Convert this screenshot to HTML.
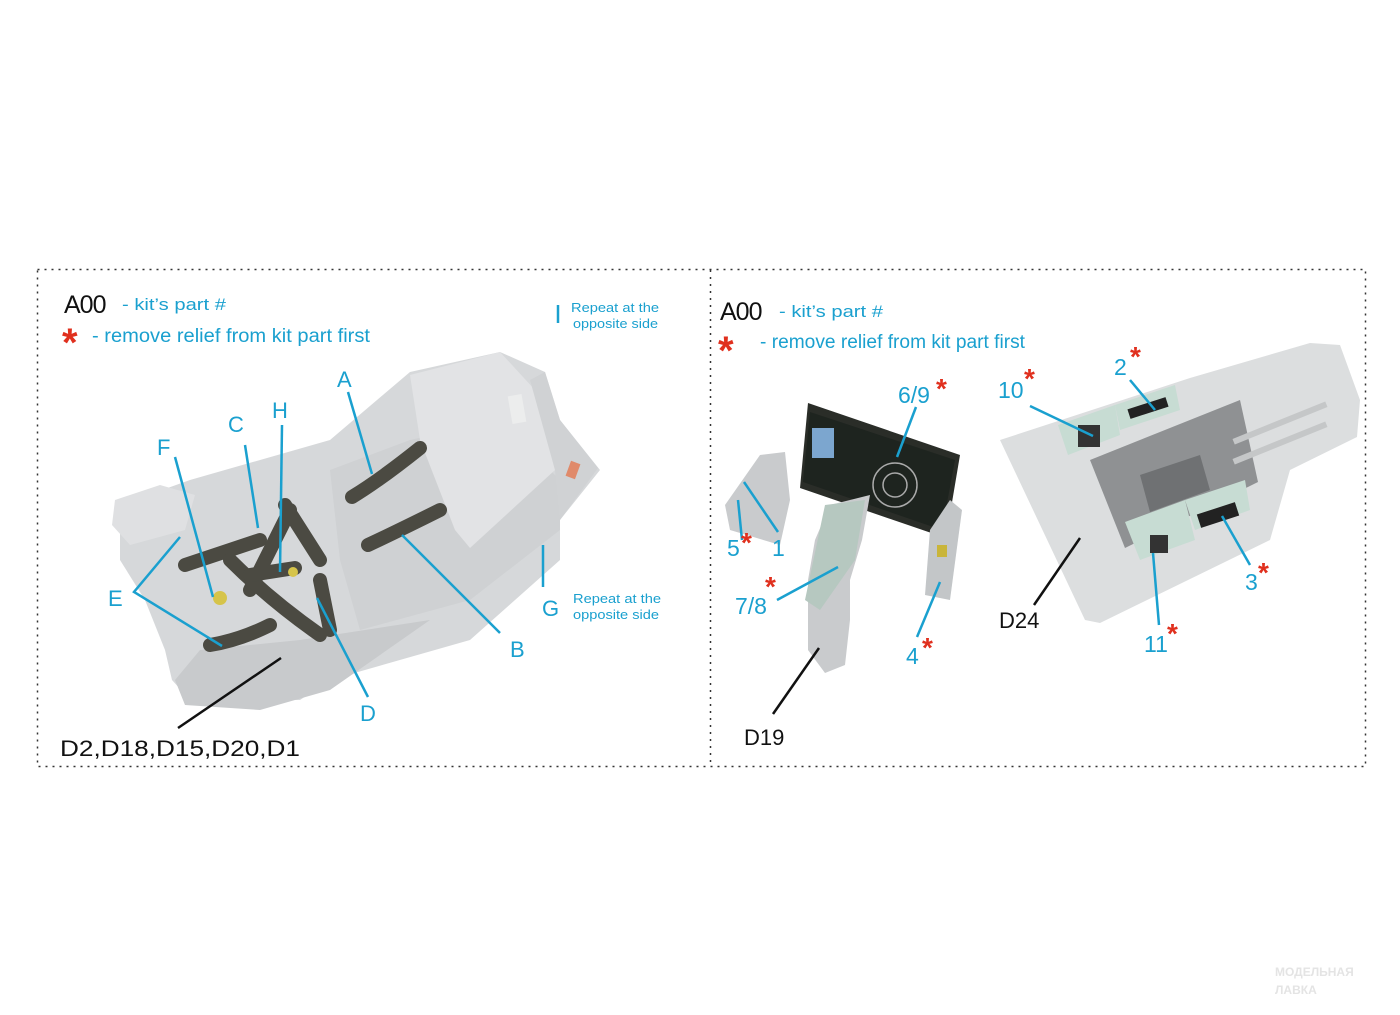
<!DOCTYPE html>
<html><head><meta charset="utf-8"><style>
html,body{margin:0;padding:0;background:#fff}
svg{display:block}
text{font-family:"Liberation Sans",sans-serif}
.b{fill:#1aa0cf}
.k{fill:#111}
.r{fill:#e0301e;font-weight:bold}
</style></head><body>
<svg width="1400" height="1015" viewBox="0 0 1400 1015" xmlns="http://www.w3.org/2000/svg">
<rect x="37.5" y="269.5" width="1328" height="497" fill="none" stroke="#333" stroke-width="1.5" stroke-dasharray="2,5"/>
<line x1="710.5" y1="270" x2="710.5" y2="767" stroke="#333" stroke-width="1.5" stroke-dasharray="2,5"/>

<!-- LEFT: seat -->
<g>
<polygon points="120,505 190,480 330,440 410,372 500,352 545,372 560,420 600,470 560,520 560,560 470,640 330,680 300,700 190,700 172,680 165,650 145,600 120,560" fill="#d6d8da"/>
<polygon points="115,500 160,485 195,495 185,530 130,545 112,525" fill="#dfe0e2"/>
<polygon points="175,680 200,650 300,640 430,620 330,690 260,710 185,705" fill="#c8cacc"/>
<polygon points="330,470 410,440 500,420 560,480 560,530 470,600 360,630 340,560" fill="#cfd1d3"/>
<polygon points="410,375 500,352 535,390 555,470 470,548 455,530 420,440" fill="#e2e3e5"/>
<polygon points="530,380 545,372 560,420 598,468 560,520 555,470" fill="#d0d2d4"/>
<rect x="510" y="395" width="14" height="28" fill="#eceded" transform="rotate(-10 517 409)"/>
<rect x="568" y="462" width="10" height="16" fill="#e08a6a" transform="rotate(20 573 470)"/>
<g stroke="#4b4a42" stroke-width="14" stroke-linecap="round" fill="none">
<path d="M352,497 Q380,480 420,448"/>
<path d="M368,545 Q400,530 440,510"/>
<path d="M185,565 Q230,550 260,540"/>
<path d="M210,645 Q240,640 270,625"/>
<path d="M250,590 L290,510"/>
<path d="M230,560 Q270,600 320,635"/>
<path d="M285,505 L320,560"/>
<path d="M250,575 L295,568"/>
<path d="M320,580 L330,630"/>
</g>
<circle cx="220" cy="598" r="7" fill="#d6c44a"/>
<circle cx="293" cy="572" r="5" fill="#d6c44a"/>
</g>
<g stroke="#1aa0cf" stroke-width="2.5" fill="none">
<line x1="348" y1="392" x2="372" y2="474"/>
<line x1="402" y1="535" x2="500" y2="633"/>
<line x1="245" y1="445" x2="258" y2="528"/>
<line x1="282" y1="425" x2="280" y2="572"/>
<line x1="175" y1="457" x2="213" y2="597"/>
<polyline points="180,537 134,592 222,646"/>
<line x1="317" y1="598" x2="368" y2="697"/>
<line x1="543" y1="545" x2="543" y2="587"/>
<line x1="558" y1="305" x2="558" y2="323"/>
</g>
<line x1="281" y1="658" x2="178" y2="728" stroke="#111" stroke-width="2.5"/>

<text x="64" y="313" font-size="25" class="k" letter-spacing="-1">A00</text>
<text x="122" y="310" font-size="17" class="b" textLength="104" lengthAdjust="spacingAndGlyphs">- kit’s part #</text>
<text x="62" y="356" font-size="40" class="r">*</text>
<text x="92" y="342" font-size="19" class="b" textLength="278" lengthAdjust="spacingAndGlyphs">- remove relief from kit part first</text>
<text x="571" y="312" font-size="13" class="b" textLength="88" lengthAdjust="spacingAndGlyphs">Repeat at the</text>
<text x="573" y="328" font-size="13" class="b" textLength="85" lengthAdjust="spacingAndGlyphs">opposite side</text>
<text x="573" y="603" font-size="13" class="b" textLength="88" lengthAdjust="spacingAndGlyphs">Repeat at the</text>
<text x="573" y="619" font-size="13" class="b" textLength="86" lengthAdjust="spacingAndGlyphs">opposite side</text>
<text x="337" y="387" font-size="22" class="b">A</text>
<text x="228" y="432" font-size="22" class="b">C</text>
<text x="272" y="418" font-size="22" class="b">H</text>
<text x="157" y="455" font-size="22" class="b">F</text>
<text x="108" y="606" font-size="22" class="b">E</text>
<text x="510" y="657" font-size="22" class="b">B</text>
<text x="542" y="616" font-size="22" class="b">G</text>
<text x="360" y="721" font-size="22" class="b">D</text>
<text x="60" y="756" font-size="22" class="k" textLength="240" lengthAdjust="spacingAndGlyphs">D2,D18,D15,D20,D1</text>

<!-- RIGHT: panel -->
<polygon points="725,505 760,455 785,452 790,500 780,545 730,530" fill="#c9cbcd"/>
<polygon points="808,403 960,455 946,538 800,488" fill="#2a2d28"/>
<polygon points="810,412 955,460 942,530 803,482" fill="#1e241f"/>
<rect x="812" y="428" width="22" height="30" fill="#7ca6cf"/>
<circle cx="895" cy="485" r="22" fill="none" stroke="#aaa" stroke-width="1.5"/>
<circle cx="895" cy="485" r="12" fill="none" stroke="#aaa" stroke-width="1.5"/>
<polygon points="830,505 870,495 862,540 850,580 850,620 845,665 825,673 808,650 808,580 815,540" fill="#c9cbcd"/>
<polygon points="825,505 865,500 855,560 820,610 805,600" fill="#b6c8c0"/>
<polygon points="930,530 950,500 962,510 950,600 925,595" fill="#c3c6c8"/>
<rect x="937" y="545" width="10" height="12" fill="#c9b53a"/>

<!-- D24 tub -->
<polygon points="1000,440 1190,378 1310,343 1340,345 1360,400 1357,437 1290,470 1270,540 1100,623 1085,620" fill="#dcdedf"/>
<polygon points="1090,460 1240,400 1258,482 1125,548" fill="#8f9193"/>
<polygon points="1140,475 1200,455 1210,490 1150,512" fill="#6f7173"/>
<polygon points="1058,425 1115,405 1120,435 1068,455" fill="#c7dcd3"/>
<polygon points="1115,405 1175,385 1180,410 1120,430" fill="#c7dcd3"/>
<polygon points="1125,522 1185,500 1195,540 1140,560" fill="#c7dcd3"/>
<polygon points="1185,500 1245,480 1250,510 1195,530" fill="#c7dcd3"/>
<rect x="1078" y="425" width="22" height="22" fill="#333"/>
<rect x="1128" y="403" width="40" height="10" fill="#222" transform="rotate(-18 1148 408)"/>
<rect x="1150" y="535" width="18" height="18" fill="#333"/>
<rect x="1198" y="508" width="40" height="14" fill="#222" transform="rotate(-18 1218 515)"/>
<rect x="1230" y="420" width="100" height="6" fill="#c5c7c8" transform="rotate(-22 1280 423)"/>
<rect x="1230" y="440" width="100" height="6" fill="#c5c7c8" transform="rotate(-22 1280 443)"/>

<g stroke="#1aa0cf" stroke-width="2.5" fill="none">
<line x1="916" y1="407" x2="897" y2="457"/>
<line x1="744" y1="482" x2="778" y2="532"/>
<line x1="742" y1="540" x2="738" y2="500"/>
<line x1="777" y1="600" x2="838" y2="567"/>
<line x1="917" y1="637" x2="940" y2="582"/>
<line x1="1030" y1="406" x2="1093" y2="436"/>
<line x1="1130" y1="380" x2="1155" y2="410"/>
<line x1="1250" y1="565" x2="1222" y2="516"/>
<line x1="1159" y1="625" x2="1153" y2="553"/>
</g>
<line x1="819" y1="648" x2="773" y2="714" stroke="#111" stroke-width="2.5"/>
<line x1="1080" y1="538" x2="1034" y2="605" stroke="#111" stroke-width="2.5"/>

<text x="720" y="320" font-size="25" class="k" letter-spacing="-1">A00</text>
<text x="779" y="317" font-size="17" class="b" textLength="104" lengthAdjust="spacingAndGlyphs">- kit’s part #</text>
<text x="718" y="364" font-size="40" class="r">*</text>
<text x="760" y="348" font-size="19" class="b" textLength="265" lengthAdjust="spacingAndGlyphs">- remove relief from kit part first</text>
<text x="898" y="403" font-size="23" class="b">6/9</text><text x="936" y="398" font-size="28" class="r">*</text>
<text x="998" y="398" font-size="23" class="b">10</text><text x="1024" y="388" font-size="28" class="r">*</text>
<text x="1114" y="375" font-size="23" class="b">2</text><text x="1130" y="366" font-size="28" class="r">*</text>
<text x="727" y="556" font-size="23" class="b">5</text><text x="741" y="552" font-size="28" class="r">*</text>
<text x="772" y="556" font-size="23" class="b">1</text>
<text x="735" y="614" font-size="23" class="b">7/8</text><text x="765" y="596" font-size="28" class="r">*</text>
<text x="906" y="664" font-size="23" class="b">4</text><text x="922" y="657" font-size="28" class="r">*</text>
<text x="1245" y="590" font-size="23" class="b">3</text><text x="1258" y="582" font-size="28" class="r">*</text>
<text x="1144" y="652" font-size="23" class="b">11</text><text x="1167" y="643" font-size="28" class="r">*</text>
<text x="744" y="745" font-size="22" class="k">D19</text>
<text x="999" y="628" font-size="22" class="k">D24</text>

<text x="1275" y="976" font-size="12" fill="#e4e4e4" font-weight="bold">МОДЕЛЬНАЯ</text>
<text x="1275" y="994" font-size="12" fill="#e4e4e4" font-weight="bold">ЛАВКА</text>
</svg>
</body></html>
